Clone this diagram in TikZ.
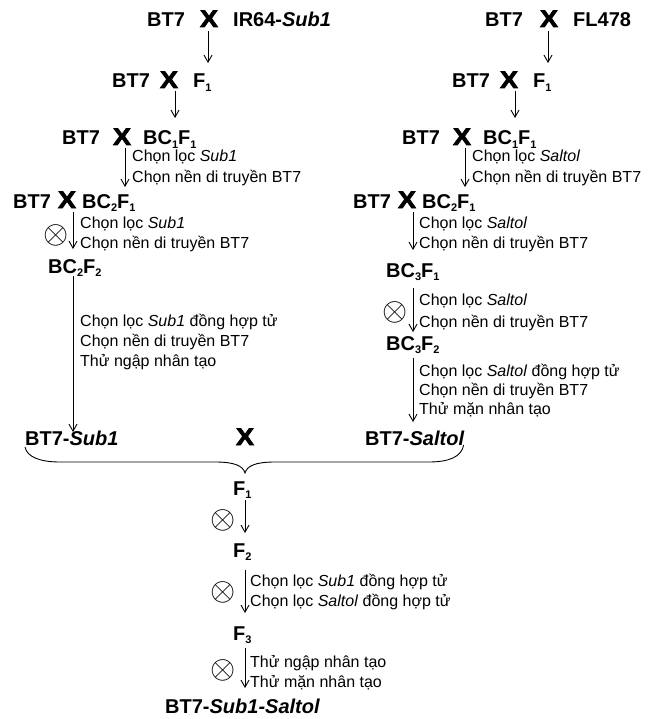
\documentclass[tikz,border=0pt]{standalone}
\usepackage{fontspec}
\setmainfont{Liberation Sans}
\newfontfamily\crsfont{Liberation Sans Bold}[FakeBold=3]
\usetikzlibrary{calc,arrows.meta}
\newcommand\sbs[1]{\raisebox{-3.5pt}{\fontsize{11}{11}\selectfont #1}}
\newcommand\crs{\crsfont\scalebox{1.12}[1]{X}}
\newcommand\slf{\scalebox{1.3}{$\otimes$}}
\begin{document}
\begin{tikzpicture}[x=1pt,y=-1pt,
  big/.style={font=\fontsize{20}{24}\selectfont\bfseries, inner sep=0pt, anchor=base west},
  crx/.style={font=\fontsize{24}{24}\selectfont, inner sep=0pt, anchor=base},
  lbl/.style={font=\fontsize{16}{19}\selectfont, inner sep=0pt, anchor=base west},
  selfx/.style={font=\fontsize{24}{24}\selectfont, inner sep=0pt},
  arr/.style={line width=0.9pt, -{Straight Barb[length=7pt,width=8pt]}},
  brc/.style={line width=0.9pt}]
\useasboundingbox (0,0) rectangle (647,719);
% ---------- left column ----------
\node[big] (lA1) at (147,27) {BT7};
\node[crx] (lX1) at (209,27) {\crs};
\node[big] (lB1) at (233,27) {IR64-\textit{Sub1}};
\node[big] (lA2) at (112,88) {BT7};
\node[crx] (lX2) at (169,88) {\crs};
\node[big] (lB2) at (193,88) {F\sbs{1}};
\node[big] (lA3) at (62,145) {BT7};
\node[crx] (lX3) at (122,145) {\crs};
\node[big] (lB3) at (143,145) {BC\sbs{1}F\sbs{1}};
\node[lbl] (l3a) at (132,162) {Chọn lọc \textit{Sub1}};
\node[lbl] (l3b) at (132,183) {Chọn nền di truyền BT7};
\node[big] (lA4) at (13,208) {BT7};
\node[crx] (lX4) at (67,208) {\crs};
\node[big] (lB4) at (82,208) {BC\sbs{2}F\sbs{1}};
\node[lbl] (l4a) at (80,228) {Chọn lọc \textit{Sub1}};
\node[lbl] (l4b) at (80,248) {Chọn nền di truyền BT7};
\node[selfx] (lO4) at (56,235) {\slf};
\node[big] (lC) at (48,273) {BC\sbs{2}F\sbs{2}};
\node[lbl] (l5a) at (80,326) {Chọn lọc \textit{Sub1} đồng hợp tử};
\node[lbl] (l5b) at (80,346) {Chọn nền di truyền BT7};
\node[lbl] (l5c) at (80,366) {Thử ngập nhân tạo};
\node[big] (lS) at (25,445) {BT7-\textit{Sub1}};
\node[crx] (mX) at (245,445) {\crs};
\node[big] (rS) at (365,445) {BT7-\textit{Saltol}};
\draw[arr] ($(lX1.base)+(-1,4)$) -- ($(lX1.base |- lB2.base)+(-1,-25)$);
\draw[arr] ($(lX2.base)+(6,3)$) -- ($(lX2.base |- lB3.base)+(6,-27)$);
\draw[arr] ($(lX3.base)+(3,3)$) -- ($(lX3.base |- lB4.base)+(3,-21)$);
\draw[arr] ($(lX4.base)+(6,4)$) -- ($(lX4.base |- lC.base)+(6,-24)$);
\draw[arr] ($(lC.base west)+(25,3)$) -- ($(lC.base west |- lS.base)+(25,-13)$);
% ---------- right column ----------
\node[big] (rA1) at (485,27) {BT7};
\node[crx] (rX1) at (549,27) {\crs};
\node[big] (rB1) at (573,27) {FL478};
\node[big] (rA2) at (452,88) {BT7};
\node[crx] (rX2) at (509,88) {\crs};
\node[big] (rB2) at (533,88) {F\sbs{1}};
\node[big] (rA3) at (402,145) {BT7};
\node[crx] (rX3) at (462,145) {\crs};
\node[big] (rB3) at (483,145) {BC\sbs{1}F\sbs{1}};
\node[lbl] (r3a) at (472,162) {Chọn lọc \textit{Saltol}};
\node[lbl] (r3b) at (472,183) {Chọn nền di truyền BT7};
\node[big] (rA4) at (353,208) {BT7};
\node[crx] (rX4) at (407,208) {\crs};
\node[big] (rB4) at (422,208) {BC\sbs{2}F\sbs{1}};
\node[lbl] (r4a) at (419,228) {Chọn lọc \textit{Saltol}};
\node[lbl] (r4b) at (419,248) {Chọn nền di truyền BT7};
\node[big] (rC1) at (386,277) {BC\sbs{3}F\sbs{1}};
\node[selfx] (rO1) at (395,312) {\slf};
\node[lbl] (r5a) at (419,305) {Chọn lọc \textit{Saltol}};
\node[lbl] (r5b) at (419,327) {Chọn nền di truyền BT7};
\node[big] (rC2) at (386,350) {BC\sbs{3}F\sbs{2}};
\node[lbl] (r6a) at (419,376) {Chọn lọc \textit{Saltol} đồng hợp tử};
\node[lbl] (r6b) at (419,395) {Chọn nền di truyền BT7};
\node[lbl] (r6c) at (419,414) {Thử mặn nhân tạo};
\draw[arr] ($(rX1.base)+(-1,4)$) -- ($(rX1.base |- rB2.base)+(-1,-25)$);
\draw[arr] ($(rX2.base)+(6,3)$) -- ($(rX2.base |- rB3.base)+(6,-27)$);
\draw[arr] ($(rX3.base)+(3,3)$) -- ($(rX3.base |- rB4.base)+(3,-21)$);
\draw[arr] ($(rX4.base)+(6,4)$) -- ($(rX4.base |- rC1.base)+(6,-27)$);
\draw[arr] ($(rC1.base west)+(27,11)$) -- ($(rC1.base west |- rC2.base)+(27,-18)$);
\draw[arr] ($(rC2.base west)+(27,8)$) -- ($(rC2.base west |- rS.base)+(27,-23)$);
% ---------- brace ----------
\coordinate (bl) at ($(lS.base west)+(0,2)$);
\coordinate (br) at ($(rS.base east)+(-1,0)$);
\coordinate (bt) at ($(mX.base)+(0,28)$);
\draw[brc] (bl) .. controls +(2,10) and +(-20,0) .. ($(bl)+(35,15)$)
  -- ($(bt)+(-30,-11)$) .. controls +(20,0) and +(-2,-7) .. (bt)
  .. controls +(2,-7) and +(-20,0) .. ($(bt)+(30,-11)$)
  -- ($(br)+(-35,17)$) .. controls +(20,0) and +(-2,12) .. (br);
% ---------- bottom ----------
\node[big] (bF1) at (233,495) {F\sbs{1}};
\node[selfx] (bO1) at (223,520) {\slf};
\node[big] (bF2) at (233,557) {F\sbs{2}};
\node[selfx] (bO2) at (223,592) {\slf};
\node[lbl] (b2a) at (250,586) {Chọn lọc \textit{Sub1} đồng hợp tử};
\node[lbl] (b2b) at (250,606) {Chọn lọc \textit{Saltol} đồng hợp tử};
\node[big] (bF3) at (233,640) {F\sbs{3}};
\node[selfx] (bO3) at (223,670) {\slf};
\node[lbl] (b3a) at (250,667) {Thử ngập nhân tạo};
\node[lbl] (b3b) at (250,687) {Thử mặn nhân tạo};
\node[big] (bR) at (165,713) {BT7-\textit{Sub1-Saltol}};
\draw[arr] ($(bF1.base west)+(12,5)$) -- ($(bF1.base west |- bF2.base)+(12,-24)$);
\draw[arr] ($(bF2.base west)+(12,13)$) -- ($(bF2.base west |- bF3.base)+(12,-27)$);
\draw[arr] ($(bF3.base west)+(12,8)$) -- ($(bF3.base west |- bR.base)+(12,-25)$);
\end{tikzpicture}
\end{document}
